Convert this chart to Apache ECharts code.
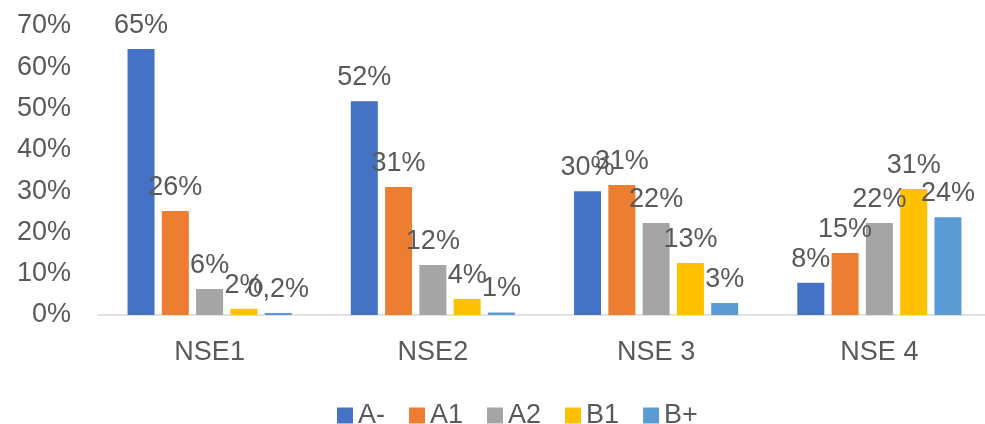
<!DOCTYPE html>
<html>
<head>
<meta charset="utf-8">
<script src="https://cdn.jsdelivr.net/npm/echarts@6/dist/echarts.min.js"></script>
<style>
  html, body { margin: 0; padding: 0; background: #fff; }
  #chart { width: 985px; height: 424px; }
</style>
</head>
<body>
<div id="chart"></div>
<script>
// categorias y series (valores en %)
var categories = ['NSE1', 'NSE2', 'NSE 3', 'NSE 4']
var seriesNames = ['A-', 'A1', 'A2', 'B1', 'B+']
var colors = ['#4472C4', '#ED7D31', '#A5A5A5', '#FFC000', '#5B9BD5']

var aMinus = [64.4, 51.8, 30.0, 7.8]
var a1 = [25.2, 31.0, 31.5, 15.0]
var a2 = [6.3, 12.1, 22.3, 22.3]
var b1 = [1.5, 3.9, 12.6, 30.5]
var bPlus = [0.5, 0.6, 2.9, 23.7]

// etiquetas tal como aparecen en el grafico
var aMinusLabels = ['65%', '52%', '30%', '8%']
var a1Labels = ['26%', '31%', '31%', '15%']
var a2Labels = ['6%', '12%', '22%', '22%']
var b1Labels = ['2%', '4%', '13%', '31%']
var bPlusLabels = ['0,2%', '1%', '3%', '24%']

var yTicks = [0, 10, 20, 30, 40, 50, 60, 70]

var values = [aMinus, a1, a2, b1, bPlus]
var labels = [aMinusLabels, a1Labels, a2Labels, b1Labels, bPlusLabels]

var font = 'Liberation Sans, Arial, sans-serif'
var textColor = '#595959'

var series = seriesNames.map(function (name, i) {
  return {
    name: name,
    type: 'bar',
    barWidth: 27,
    barGap: '27%',
    itemStyle: { color: colors[i] },
    label: {
      show: true,
      position: 'top',
      distance: 10,
      fontFamily: font,
      fontSize: 27,
      color: textColor,
      formatter: function (p) { return labels[i][p.dataIndex] }
    },
    data: values[i]
  }
})

var chart = echarts.init(document.getElementById('chart'))
chart.setOption({
  animation: false,
  grid: { left: 98, width: 893, top: 26, bottom: 109, outerBoundsMode: 'none', containLabel: false },
  legend: {
    data: seriesNames,
    left: 332,
    top: 397,
    itemWidth: 16,
    itemHeight: 16,
    itemGap: 24,
    icon: 'rect',
    textStyle: { fontFamily: font, fontSize: 27, color: textColor }
  },
  xAxis: {
    type: 'category',
    data: categories,
    axisLine: { lineStyle: { color: '#D9D9D9', width: 1.5 } },
    axisTick: { show: false },
    axisLabel: { margin: 24, fontFamily: font, fontSize: 27, color: textColor }
  },
  yAxis: {
    type: 'value',
    min: yTicks[0],
    max: yTicks[yTicks.length - 1],
    interval: 10,
    splitLine: { show: false },
    axisLine: { show: false },
    axisTick: { show: false },
    axisLabel: { margin: 27, fontFamily: font, fontSize: 27, color: textColor, formatter: '{value}%' }
  },
  series: series
})
</script>
</body>
</html>
